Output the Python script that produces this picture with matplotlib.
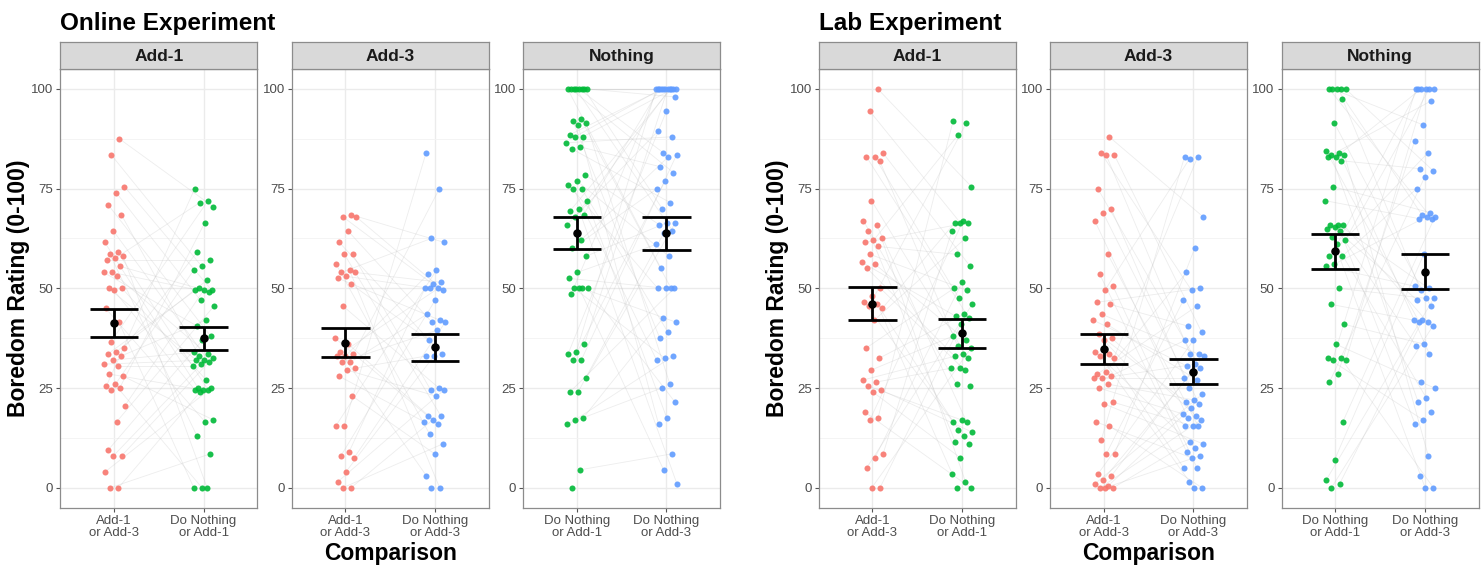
import numpy as np
import matplotlib
matplotlib.use("Agg")
import matplotlib.pyplot as plt

# ---------------- data ----------------
online_add1_left = [87.5, 83.5, 75.5, 74, 71, 68.5, 64.5, 61.5, 59, 58.5, 58, 57.5, 57, 55.5, 54, 54, 53,
                    50, 50, 49.5, 45, 41.5, 36.5, 35, 34, 33.5, 33, 32, 31, 30.5, 28.5, 28, 26, 25.5, 25,
                    24.5, 20.5, 16.5, 9.5, 8, 8, 4, 0, 0]
online_add1_right = [75, 72, 71.5, 70.5, 66.5, 59, 57, 55.5, 54.5, 52, 50, 49.5, 49.5, 49.5, 49, 47, 45.5,
                     42, 40.5, 38, 37, 34, 33.5, 33, 32.5, 32, 32, 31.5, 31, 30.5, 27, 25, 25, 24.5, 24.5,
                     24.5, 24, 17, 16.5, 13, 8.5, 0, 0, 0]
online_add3_left = [68.5, 68, 68, 64.5, 61.5, 58.5, 58.5, 56, 54.5, 54, 54, 53, 52.5, 51, 45.5, 37.5, 36,
                    34, 33.5, 33, 33, 31.5, 31.5, 30, 29.5, 28, 23, 15.5, 15.5, 9, 8, 7.5, 4, 1.5, 0, 0]
online_add3_right = [84, 75, 62.5, 61.5, 54.5, 53.5, 51.5, 51, 50, 50, 50, 49.5, 47, 43.5, 42, 41.5, 41.5,
                     39.5, 37, 33.5, 33, 33, 25, 24.5, 24.5, 23, 18, 18, 17, 16.5, 16, 13.5, 11, 8.5, 3, 0, 0]
online_nothing_left = [100, 100, 100, 100, 100, 100, 100, 100, 92.5, 92, 91.5, 91, 88.5, 88, 88, 86.5,
                       85.5, 85, 78.5, 77, 76, 75, 75, 72, 70, 69.5, 68.5, 68, 66, 62, 60, 58, 54, 52.5,
                       50, 50, 50, 50, 48.5, 36, 34, 33.5, 32, 32, 27.5, 24, 24, 17.5, 17, 16, 4.5, 0]
online_nothing_right = [100, 100, 100, 100, 100, 100, 100, 100, 100, 100, 100, 98, 94.5, 89.5, 88, 84,
                        83.5, 83, 80.5, 79, 77, 75, 71.5, 70, 66.5, 66.5, 66, 64.5, 64, 61, 58, 55, 50, 50,
                        50, 50, 42.5, 41.5, 39, 37.5, 33, 32.5, 32, 26, 25, 21.5, 17.5, 16, 8.5, 4.5, 1]

lab_add1_left = [100, 94.5, 84, 83, 83, 82, 72, 67, 66, 64.5, 62.5, 62, 61.5, 60.5, 58.5, 56.5, 56, 55,
                 50, 48, 46.5, 46, 45.5, 45, 42, 35, 32.5, 29.5, 27, 26.5, 25.5, 24.5, 24, 19, 17.5, 17,
                 8.5, 7.5, 5, 0, 0]
lab_add1_right = [92, 91.5, 88.5, 75.5, 67, 66.5, 66.5, 66.5, 64.5, 62.5, 58.5, 55.5, 51.5, 50, 49.5,
                  47.5, 46, 43.5, 43, 42.5, 41, 38, 37, 35.5, 35, 33.5, 33, 32.5, 30, 30, 29.5, 26, 25.5,
                  17, 16.5, 16.5, 14.5, 14, 13, 11.5, 11, 7.5, 3.5, 1.5, 0, 0]
lab_add3_left = [88, 84, 83.5, 83.5, 75, 70, 69, 67, 58.5, 53.5, 50.5, 49.5, 46.5, 46, 43.5, 42, 41,
                 38.5, 37.5, 37, 34, 33.5, 33, 32.5, 29, 28.5, 28, 27.5, 27.5, 26, 25, 21.5, 21, 16.5,
                 15.5, 12, 8.5, 8.5, 3.5, 3, 2, 1, 0.5, 0, 0, 0]
lab_add3_right = [83, 83, 82.5, 68, 60, 54, 50, 49.5, 47, 45.5, 40.5, 39, 37, 37, 33.5, 33.5, 33, 31,
                  30.5, 30, 29, 27.5, 27, 25, 23.5, 22, 21.5, 21, 20, 18.5, 18, 17.5, 17, 15.5, 15.5,
                  15.5, 11.5, 11, 10, 9, 8, 7.5, 5, 5, 1.5, 0, 0]
lab_nothing_left = [100, 100, 100, 100, 100, 97.5, 91.5, 84.5, 84, 83.5, 83.5, 83, 83, 82, 75.5, 72, 66,
                    66, 66, 65.5, 65, 64.5, 63, 62, 61, 58, 58, 56, 55.5, 50, 46, 41, 36, 32.5, 32.5, 32,
                    32, 28.5, 26.5, 16.5, 7, 2, 1, 0]
lab_nothing_right = [100, 100, 100, 100, 100, 100, 97, 91, 87, 84, 80, 79.5, 78, 75, 69, 68.5, 68, 68,
                     67.5, 67.5, 58.5, 50.5, 50, 49.5, 47.5, 47.5, 47, 45.5, 42, 42, 41.5, 41.5, 40.5, 36,
                     35.5, 33.5, 26.5, 25, 22.5, 21.5, 19, 17, 16, 8, 3, 0, 0]

experiments = ["Online Experiment", "Lab Experiment"]
facets = ["Add-1", "Add-3", "Nothing"]
categories = {
    "Add-1": ["Add-1\nor Add-3", "Do Nothing\nor Add-1"],
    "Add-3": ["Add-1\nor Add-3", "Do Nothing\nor Add-3"],
    "Nothing": ["Do Nothing\nor Add-1", "Do Nothing\nor Add-3"],
}
values = {
    ("Online Experiment", "Add-1"): (online_add1_left, online_add1_right),
    ("Online Experiment", "Add-3"): (online_add3_left, online_add3_right),
    ("Online Experiment", "Nothing"): (online_nothing_left, online_nothing_right),
    ("Lab Experiment", "Add-1"): (lab_add1_left, lab_add1_right),
    ("Lab Experiment", "Add-3"): (lab_add3_left, lab_add3_right),
    ("Lab Experiment", "Nothing"): (lab_nothing_left, lab_nothing_right),
}
yticks = [0, 25, 50, 75, 100]
y_label = "Boredom Rating (0-100)"
x_label = "Comparison"

# ---------------- styling ----------------
plt.rcParams['font.family'] = ['Liberation Sans', 'DejaVu Sans']
cat_colors = {"Add-1\nor Add-3": "#F8766D",
              "Do Nothing\nor Add-1": "#00BA38",
              "Do Nothing\nor Add-3": "#619CFF"}
BORDER = "#8C8C8C"

W, H = 1484, 568
fig = plt.figure(figsize=(W / 100, H / 100), dpi=100)

panel_lefts = {"Online Experiment": [60.3, 291.7, 523.1],
               "Lab Experiment": [818.7, 1050.1, 1281.5]}
panel_w = 197.0
plot_top, plot_bot = 69.0, 507.7
strip_top = 42.3
jit_w = 0.12
cap_half = 0.27


def jitter(n, phase):
    # deterministic low-discrepancy horizontal spread (position only)
    return (((np.arange(n) + 1) * 0.6180339887 + phase) % 1 - 0.5) * 2 * jit_w


for exp in experiments:
    for fi, fac in enumerate(facets):
        x0 = panel_lefts[exp][fi]
        ax = fig.add_axes([x0 / W, 1 - plot_bot / H, panel_w / W, (plot_bot - plot_top) / H])
        ax.set_xlim(0.4, 2.6)
        ax.set_ylim(-5, 105)
        ax.set_yticks(yticks)
        ax.set_yticklabels([str(v) for v in yticks])
        ax.set_yticks([12.5, 37.5, 62.5, 87.5], minor=True)
        cats = categories[fac]
        ax.set_xticks([1, 2])
        ax.set_xticklabels(cats, linespacing=1.0)
        ax.grid(which='major', color='#EBEBEB', lw=1.0)
        ax.grid(which='minor', axis='y', color='#F3F3F3', lw=0.6)
        ax.set_axisbelow(True)
        ax.tick_params(which='minor', length=0)
        ax.tick_params(which='major', length=3, width=0.8, color='#555555', labelsize=9.5,
                       labelcolor='#4D4D4D', pad=2)
        for s in ax.spines.values():
            s.set_color(BORDER)
            s.set_linewidth(0.9)

        left, right = (np.array(v, dtype=float) for v in values[(exp, fac)])
        jl = jitter(len(left), 0.13)
        jr = jitter(len(right), 0.47)
        k = min(len(left), len(right))
        perm = np.argsort(((np.arange(len(right)) + 1) * 0.7548776662) % 1)[:k]
        for i in range(k):
            ax.plot([1 + jl[i], 2 + jr[perm[i]]], [left[i], right[perm[i]]],
                    color='#C4C4C4', alpha=0.3, lw=0.6, zorder=1)

        ax.scatter(1 + jl, left, s=19, color=cat_colors[cats[0]], alpha=0.9, lw=0, zorder=2)
        ax.scatter(2 + jr, right, s=19, color=cat_colors[cats[1]], alpha=0.9, lw=0, zorder=2)

        for xi, arr in ((1, left), (2, right)):
            m = arr.mean()
            se = arr.std(ddof=1) / np.sqrt(len(arr))
            ax.vlines(xi, m - se, m + se, color='black', lw=2.0, zorder=4)
            ax.hlines([m - se, m + se], xi - cap_half, xi + cap_half, color='black', lw=2.0, zorder=4)
            ax.scatter([xi], [m], s=26, color='black', zorder=5)

        # strip
        sax = fig.add_axes([x0 / W, 1 - plot_top / H, panel_w / W, (plot_top - strip_top) / H])
        sax.set_facecolor('#D9D9D9')
        sax.set_xticks([])
        sax.set_yticks([])
        for s in sax.spines.values():
            s.set_color(BORDER)
            s.set_linewidth(0.9)
        sax.text(0.5, 0.47, fac, ha='center', va='center', fontsize=12.5, fontweight='bold',
                 color='#1A1A1A', transform=sax.transAxes)

    lefts = panel_lefts[exp]
    fig.text(lefts[0] / W, 1 - 30 / H, exp, fontsize=17.5, fontweight='bold', ha='left', va='baseline')
    ylab_x = 19 if exp == "Online Experiment" else 777
    fig.text(ylab_x / W, 1 - 288 / H, y_label, rotation=90, fontsize=16.5, fontweight='bold',
             ha='center', va='center')
    cx = (lefts[0] + lefts[2] + panel_w) / 2
    fig.text(cx / W, 1 - 560 / H, x_label, fontsize=16.5, fontweight='bold', ha='center', va='baseline')

fig.savefig("out.png", dpi=100)
